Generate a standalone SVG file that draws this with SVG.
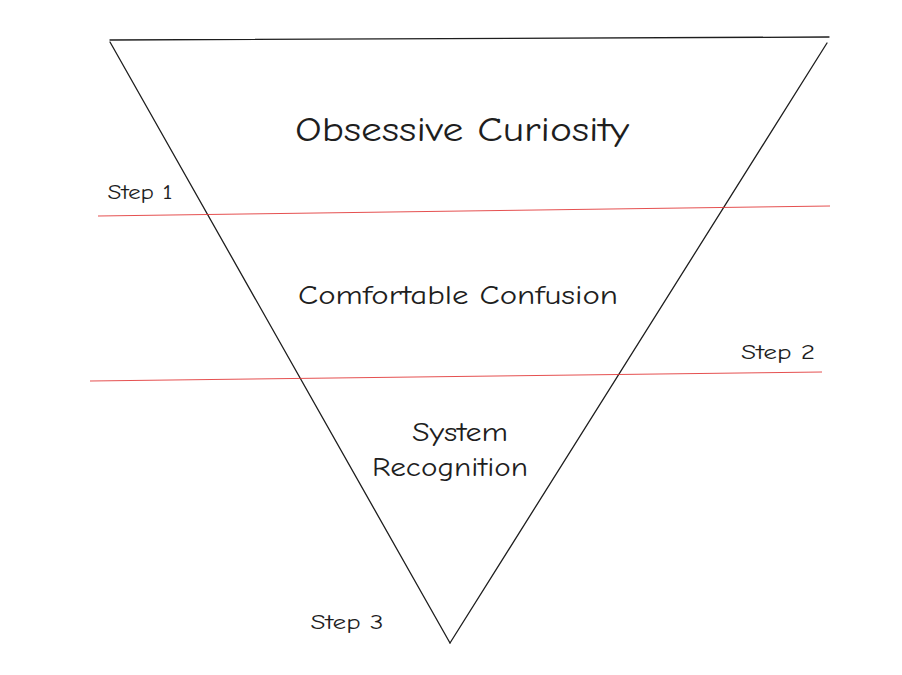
<svg xmlns="http://www.w3.org/2000/svg" width="902" height="675" viewBox="0 0 902 675">
<style>
.edge{stroke:#1e1e1e;stroke-width:1.3;fill:none;stroke-linecap:round}
.red{stroke:#e03131;stroke-width:1;fill:none;opacity:0.85}
text{font-family:"Comic Neue","Liberation Sans",sans-serif;fill:#1e1e1e;text-anchor:middle}
.big{font-size:34px}
.mid{font-size:27px}
.small{font-size:20px}
</style>
<rect width="902" height="675" fill="#ffffff"/>
<g id="triangle">
<line class="edge" x1="110" y1="40" x2="829" y2="37"/>
<line class="edge" x1="110" y1="42" x2="450" y2="643"/>
<line class="edge" x1="827" y1="43" x2="450" y2="643"/>
</g>
<g id="connectors">
<line class="red" x1="98" y1="216" x2="830" y2="206"/>
<line class="red" x1="90" y1="381" x2="822" y2="372"/>
</g>
<g id="level1"><text class="big" x="462" y="141" textLength="334" lengthAdjust="spacingAndGlyphs">Obsessive Curiosity</text></g>
<g id="level2"><text class="mid" x="458" y="304" textLength="320" lengthAdjust="spacingAndGlyphs">Comfortable Confusion</text></g>
<g id="level3"><text class="mid" x="460" y="441" textLength="96" lengthAdjust="spacingAndGlyphs">System</text><text class="mid" x="450" y="476" textLength="156" lengthAdjust="spacingAndGlyphs">Recognition</text></g>
<g id="step1"><text class="small" x="140" y="199" textLength="65" lengthAdjust="spacingAndGlyphs">Step 1</text></g>
<g id="step2"><text class="small" x="778" y="359" textLength="74" lengthAdjust="spacingAndGlyphs">Step 2</text></g>
<g id="step3"><text class="small" x="347" y="629" textLength="73" lengthAdjust="spacingAndGlyphs">Step 3</text></g>
</svg>
